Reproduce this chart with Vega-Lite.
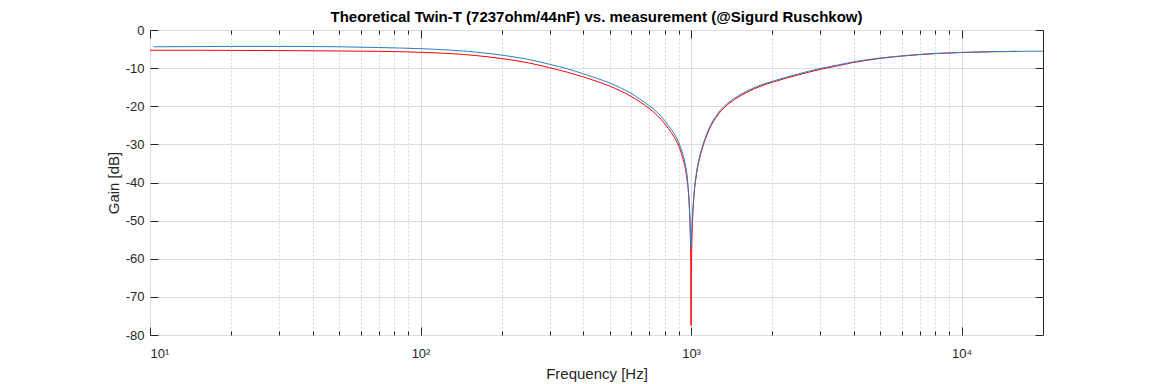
{
  "$schema": "https://vega.github.io/schema/vega-lite/v6.json",
  "width": 893,
  "height": 305,
  "autosize": {"type": "none"},
  "padding": {"left": 150, "top": 30, "right": 110, "bottom": 49},
  "background": "white",
  "title": {"text": "Theoretical Twin-T (7237ohm/44nF) vs. measurement (@Sigurd Ruschkow)", "fontSize": 15, "fontWeight": "bold", "font": "Liberation Sans", "color": "#000000", "offset": -1, "anchor": "middle"},
  "config": {
    "font": "Liberation Sans",
    "view": {"stroke": "#262626", "strokeWidth": 1},
    "axis": {"domain": false, "tickColor": "#262626", "labelColor": "#262626", "titleColor": "#262626", "labelFontSize": 13, "titleFontSize": 15, "titleFontWeight": "normal", "labelFont": "Liberation Sans", "titleFont": "Liberation Sans", "gridColor": "#dcdcdc", "gridWidth": 1, "tickWidth": 1}
  },
  "datasets": {
    "red": [
      {"f": 10, "g": -5.3}, {"f": 15, "g": -5.3}, {"f": 20, "g": -5.35}, {"f": 30, "g": -5.4}, {"f": 50, "g": -5.5}, {"f": 70, "g": -5.6}, {"f": 100, "g": -5.85}, {"f": 130, "g": -6.2}, {"f": 160, "g": -6.7}, {"f": 200, "g": -7.5}, {"f": 250, "g": -8.6}, {"f": 300, "g": -9.9}, {"f": 350, "g": -11.1}, {"f": 400, "g": -12.3}, {"f": 450, "g": -13.5}, {"f": 500, "g": -14.7}, {"f": 550, "g": -16.0}, {"f": 600, "g": -17.4}, {"f": 650, "g": -18.9}, {"f": 700, "g": -20.6}, {"f": 750, "g": -22.4}, {"f": 800, "g": -24.6}, {"f": 850, "g": -27.2}, {"f": 880, "g": -28.9}, {"f": 905, "g": -30.8}, {"f": 930, "g": -33.4}, {"f": 950, "g": -36.0}, {"f": 968, "g": -39.7}, {"f": 985.7, "g": -46.1}, {"f": 993, "g": -52.4}, {"f": 996.5, "g": -58.4}, {"f": 998.3, "g": -64.7}, {"f": 1000, "g": -77.5}, {"f": 1002.9, "g": -64}, {"f": 1005.8, "g": -57.7}, {"f": 1011.6, "g": -51.1}, {"f": 1023, "g": -44.5}, {"f": 1047, "g": -38}, {"f": 1075, "g": -33.8}, {"f": 1107, "g": -30.5}, {"f": 1156, "g": -26.8}, {"f": 1259, "g": -22.2}, {"f": 1339, "g": -20.1}, {"f": 1450, "g": -18.2}, {"f": 1611, "g": -16.3}, {"f": 1800, "g": -14.8}, {"f": 2000, "g": -13.7}, {"f": 2500, "g": -11.75}, {"f": 3000, "g": -10.35}, {"f": 3500, "g": -9.35}, {"f": 4000, "g": -8.5}, {"f": 5000, "g": -7.45}, {"f": 6000, "g": -6.85}, {"f": 7000, "g": -6.45}, {"f": 8000, "g": -6.2}, {"f": 10000, "g": -5.9}, {"f": 13000, "g": -5.7}, {"f": 16000, "g": -5.6}
    ],
    "blue": [
      {"f": 10.3, "g": -4.4}, {"f": 15, "g": -4.35}, {"f": 20, "g": -4.3}, {"f": 30, "g": -4.3}, {"f": 50, "g": -4.4}, {"f": 70, "g": -4.6}, {"f": 100, "g": -4.9}, {"f": 130, "g": -5.3}, {"f": 160, "g": -5.8}, {"f": 200, "g": -6.6}, {"f": 250, "g": -7.7}, {"f": 300, "g": -9.0}, {"f": 350, "g": -10.2}, {"f": 400, "g": -11.5}, {"f": 450, "g": -12.7}, {"f": 500, "g": -13.9}, {"f": 550, "g": -15.2}, {"f": 600, "g": -16.6}, {"f": 650, "g": -18.2}, {"f": 700, "g": -19.85}, {"f": 750, "g": -21.6}, {"f": 800, "g": -23.8}, {"f": 850, "g": -26.4}, {"f": 880, "g": -28.0}, {"f": 905, "g": -29.9}, {"f": 930, "g": -32.4}, {"f": 950, "g": -34.9}, {"f": 971, "g": -39.5}, {"f": 981, "g": -44}, {"f": 990, "g": -49.5}, {"f": 996, "g": -54.5}, {"f": 1000, "g": -57}, {"f": 1004, "g": -54.5}, {"f": 1010, "g": -50}, {"f": 1022, "g": -44.5}, {"f": 1047, "g": -37.4}, {"f": 1075, "g": -33.3}, {"f": 1107, "g": -30.1}, {"f": 1156, "g": -26.4}, {"f": 1259, "g": -21.8}, {"f": 1339, "g": -19.75}, {"f": 1450, "g": -17.85}, {"f": 1611, "g": -16.0}, {"f": 1800, "g": -14.5}, {"f": 2000, "g": -13.45}, {"f": 2500, "g": -11.5}, {"f": 3000, "g": -10.1}, {"f": 3500, "g": -9.15}, {"f": 4000, "g": -8.35}, {"f": 5000, "g": -7.35}, {"f": 6000, "g": -6.8}, {"f": 7000, "g": -6.4}, {"f": 8000, "g": -6.15}, {"f": 10000, "g": -5.88}, {"f": 13000, "g": -5.68}, {"f": 16000, "g": -5.6}, {"f": 20000, "g": -5.55}
    ]
  },
  "layer": [
    {
      "data": {"name": "red"},
      "mark": {"type": "line", "color": "#ff0000", "strokeWidth": 1, "interpolate": "monotone", "clip": true},
      "encoding": {
        "x": {"field": "f", "type": "quantitative", "scale": {"type": "log", "domain": [10, 20000], "nice": false},
          "axis": {"orient": "bottom", "values": [20, 30, 40, 50, 60, 70, 80, 90, 200, 300, 400, 500, 600, 700, 800, 900, 2000, 3000, 4000, 5000, 6000, 7000, 8000, 9000], "grid": true, "gridDash": [2, 2], "gridColor": "#d4d4d4", "tickSize": -4, "labels": false, "title": null}},
        "y": {"field": "g", "type": "quantitative", "scale": {"domain": [-80, 0], "nice": false},
          "axis": {"orient": "left", "values": [-80, -70, -60, -50, -40, -30, -20, -10, 0], "grid": true, "tickSize": -8, "labelPadding": 14, "labelExpr": "'' + datum.value", "title": "Gain [dB]", "titlePadding": 4}}
      }
    },
    {
      "data": {"name": "blue"},
      "mark": {"type": "line", "color": "#2a7fc4", "strokeWidth": 1, "interpolate": "monotone", "clip": true},
      "encoding": {
        "x": {"field": "f", "type": "quantitative",
          "axis": {"orient": "top", "values": [20, 30, 40, 50, 60, 70, 80, 90, 200, 300, 400, 500, 600, 700, 800, 900, 2000, 3000, 4000, 5000, 6000, 7000, 8000, 9000], "grid": false, "tickSize": -4, "labels": false, "title": null}},
        "y": {"field": "g", "type": "quantitative",
          "axis": {"orient": "right", "values": [-80, -70, -60, -50, -40, -30, -20, -10, 0], "grid": false, "tickSize": -8, "labels": false, "title": null}}
      }
    },
    {
      "data": {"name": "red"},
      "mark": {"type": "line", "opacity": 0, "strokeWidth": 0},
      "encoding": {
        "x": {"field": "f", "type": "quantitative",
          "axis": {"orient": "bottom", "values": [10, 100, 1000, 10000], "grid": true, "tickSize": -8, "labelPadding": 20, "labelExpr": "datum.value == 10 ? '10¹' : datum.value == 100 ? '10²' : datum.value == 1000 ? '10³' : '10⁴'", "title": "Frequency [Hz]", "titlePadding": 6}},
        "y": {"field": "g", "type": "quantitative", "axis": null}
      }
    },
    {
      "data": {"name": "red"},
      "mark": {"type": "line", "opacity": 0, "strokeWidth": 0},
      "encoding": {
        "x": {"field": "f", "type": "quantitative",
          "axis": {"orient": "top", "values": [10, 100, 1000, 10000], "grid": false, "tickSize": -8, "labels": false, "title": null}},
        "y": {"field": "g", "type": "quantitative", "axis": null}
      }
    }
  ],
  "resolve": {"axis": {"x": "independent", "y": "independent"}}
}
